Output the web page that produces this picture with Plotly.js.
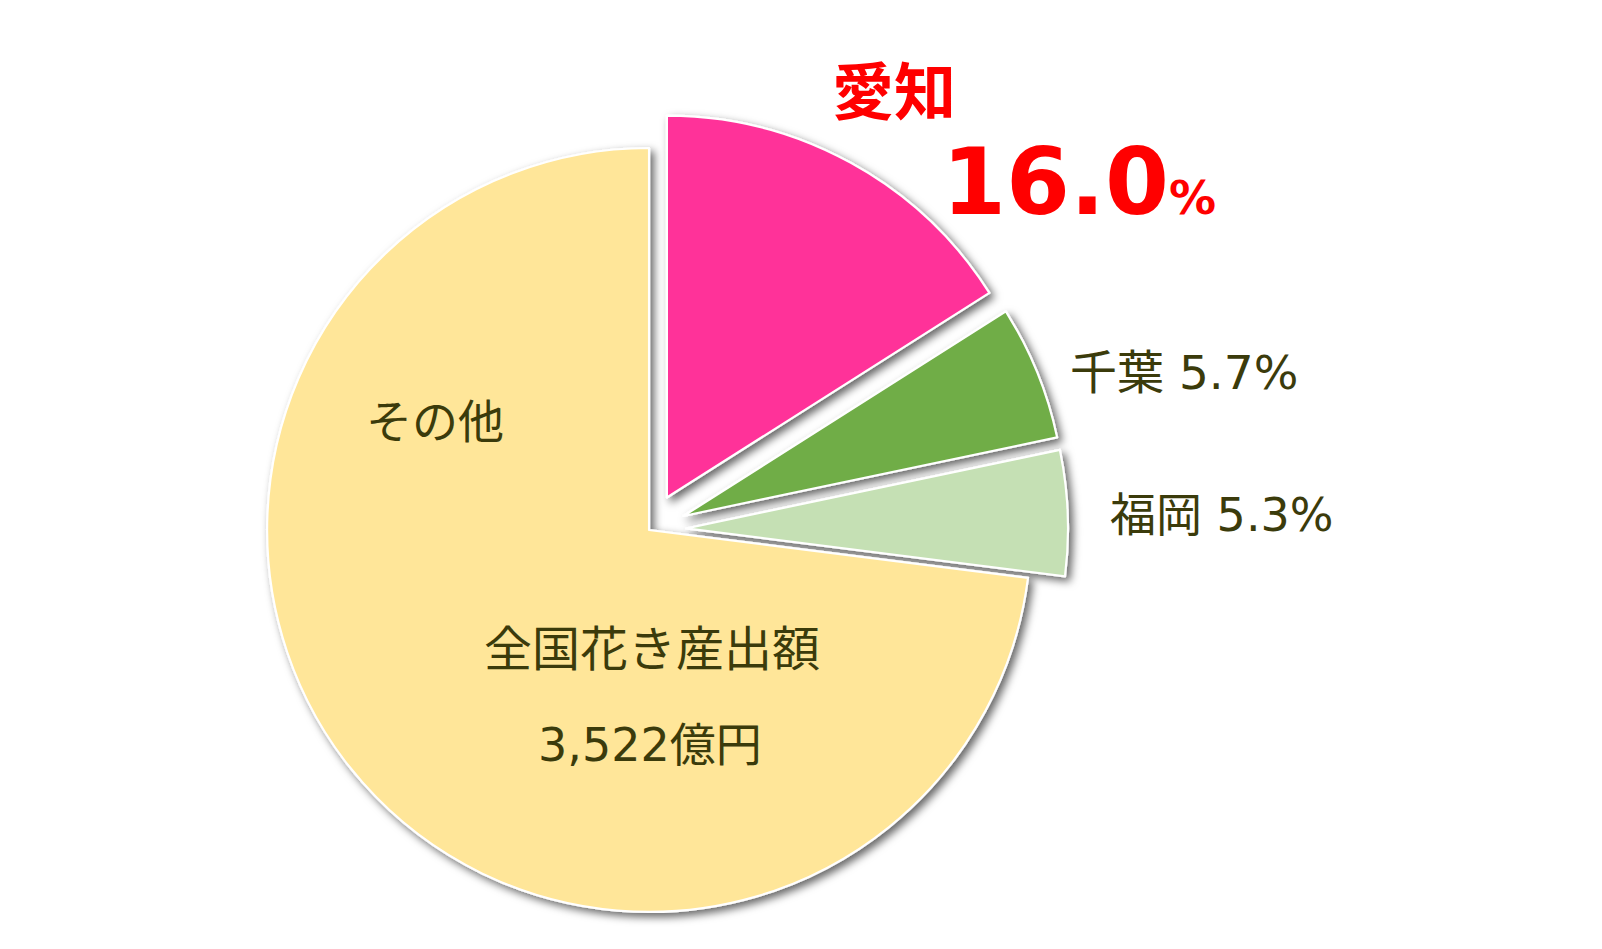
<!DOCTYPE html>
<html>
<head>
<meta charset="utf-8">
<script src="https://cdn.plot.ly/plotly-3.0.1.min.js"></script>
<style>
  html, body { margin: 0; padding: 0; background: #ffffff; overflow: hidden; }
  #chart { width: 1602px; height: 949px; }
</style>
</head>
<body>
<div id="chart"></div>
<script>
// ---- data ----
const labels = ['愛知', '千葉', '福岡', 'その他'];
const values = [16.0, 5.7, 5.3, 73.0];
const totalTitle = '全国花き産出額';
const totalAmount = '3,522億円';

// ---- styles ----
const colors = ['#FF3399', '#70AD47', '#C5E0B4', '#FFE699'];
const pulls = [0.097, 0.097, 0.097, 0];
const textColor = '#3b3b0b';
const labelFont = 'DejaVu Sans, Noto Sans CJK JP, sans-serif';

const pie = {
  type: 'pie',
  labels: labels,
  values: values,
  sort: false,
  direction: 'clockwise',
  rotation: 0,
  pull: pulls,
  marker: { colors: colors, line: { color: '#ffffff', width: 2.2 } },
  textinfo: 'none',
  hoverinfo: 'label+percent',
  domain: { x: [0.1436, 0.6667], y: [0, 0.8831] },
  showlegend: false
};

function px(x) { return x / 1602; }
function py(y) { return 1 - y / 949; }
const pct = v => v.toFixed(1) + '%';

const annotations = [
  { text: '<b>' + labels[0] + '</b>', x: px(894), y: py(88),
    font: { family: 'Noto Sans CJK JP, sans-serif', size: 62, color: '#FF0000' } },
  { text: '<b>' + values[0].toFixed(1) + '<span style="font-size:47px">%</span></b>', x: px(1079), y: py(183),
    font: { family: 'DejaVu Sans, sans-serif', size: 92, color: '#FF0000' } },
  { text: labels[1] + ' ' + pct(values[1]), x: px(1184), y: py(372),
    font: { family: labelFont, size: 47, color: textColor } },
  { text: labels[2] + ' ' + pct(values[2]), x: px(1222), y: py(515),
    font: { family: labelFont, size: 46, color: textColor } },
  { text: labels[3], x: px(435), y: py(422),
    font: { family: labelFont, size: 46, color: textColor } },
  { text: totalTitle, x: px(652), y: py(649),
    font: { family: labelFont, size: 48, color: textColor } },
  { text: totalAmount, x: px(650), y: py(745),
    font: { family: labelFont, size: 46, color: textColor } }
].map(a => Object.assign({ xref: 'paper', yref: 'paper', showarrow: false,
  xanchor: 'center', yanchor: 'middle' }, a));

const layout = {
  width: 1602,
  height: 949,
  margin: { l: 0, r: 0, t: 0, b: 0 },
  paper_bgcolor: '#ffffff',
  plot_bgcolor: '#ffffff',
  annotations: annotations,
  showlegend: false
};

Plotly.newPlot('chart', [pie], layout, { displayModeBar: false, staticPlot: true }).then(function (gd) {
  // soft drop shadow under the pie slices (visual style only)
  const NS = 'http://www.w3.org/2000/svg';
  const svg = gd.querySelector('svg.main-svg');
  let defs = svg.querySelector('defs');
  if (!defs) { defs = document.createElementNS(NS, 'defs'); svg.insertBefore(defs, svg.firstChild); }
  const filter = document.createElementNS(NS, 'filter');
  filter.setAttribute('id', 'pieShadow');
  filter.setAttribute('x', '-20%'); filter.setAttribute('y', '-20%');
  filter.setAttribute('width', '140%'); filter.setAttribute('height', '140%');
  const ds = document.createElementNS(NS, 'feDropShadow');
  ds.setAttribute('dx', '4'); ds.setAttribute('dy', '4');
  ds.setAttribute('stdDeviation', '4.5');
  ds.setAttribute('flood-color', '#000000');
  ds.setAttribute('flood-opacity', '0.6');
  filter.appendChild(ds);
  defs.appendChild(filter);
  gd.querySelectorAll('g.pielayer g.trace').forEach(function (g) {
    g.setAttribute('filter', 'url(#pieShadow)');
  });
});
</script>
</body>
</html>
